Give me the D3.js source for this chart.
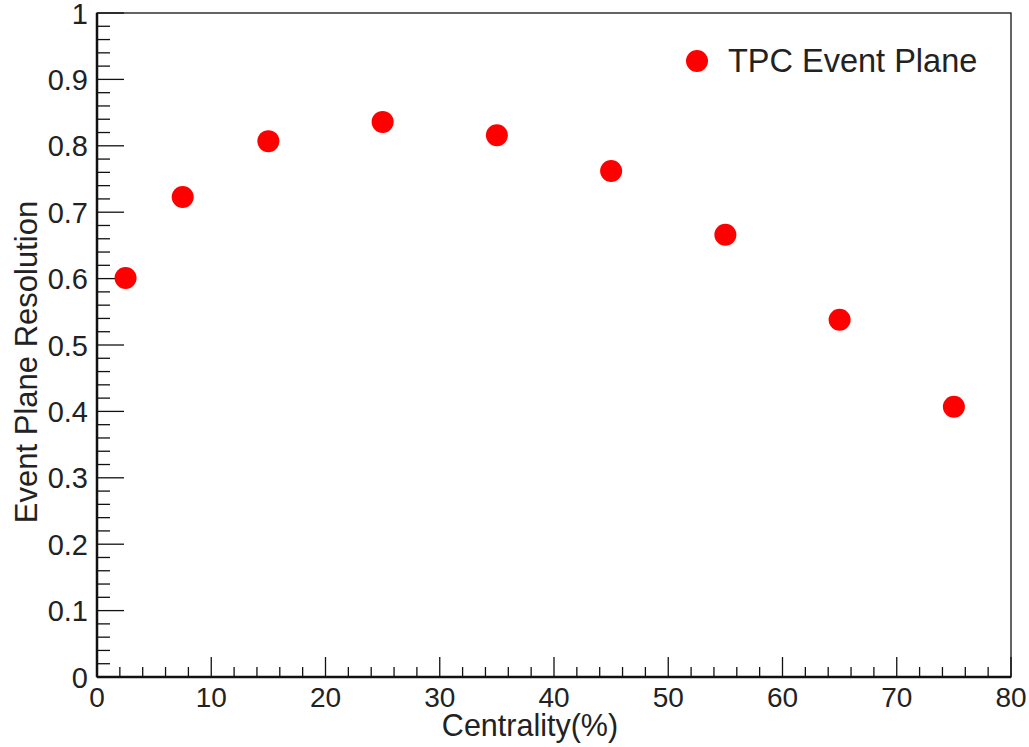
<!DOCTYPE html>
<html><head><meta charset="utf-8">
<script src="https://cdn.jsdelivr.net/npm/d3@7"></script>
<style>body{margin:0;background:#fff}svg{display:block}text{font-family:"Liberation Sans",Arial,sans-serif;fill:#222}</style>
</head><body>
<svg id="c" width="1029" height="747"></svg>
<script>
const centrality = [2.5, 7.5, 15, 25, 35, 45, 55, 65, 75];
const resolution = [0.601, 0.723, 0.807, 0.836, 0.816, 0.762, 0.666, 0.538, 0.407];
const xTicks = [0, 10, 20, 30, 40, 50, 60, 70, 80];
const yTicks = [0, 0.1, 0.2, 0.3, 0.4, 0.5, 0.6, 0.7, 0.8, 0.9, 1];
const seriesName = "TPC Event Plane";

const svg = d3.select("#c");
const L = 97, R = 1011, T = 13, B = 677;
const x = d3.scaleLinear().domain([0, 80]).range([L, R]);
const y = d3.scaleLinear().domain([0, 1]).range([B, T]);

// frame
svg.append("rect").attr("x", L).attr("y", T).attr("width", R - L).attr("height", B - T)
  .attr("fill", "none").attr("stroke", "#111").attr("stroke-width", 1.3);

// x ticks (minor every 2, major every 10)
const xMinor = d3.range(0, 80.001, 2);
svg.append("g").selectAll("line").data(xMinor).join("line")
  .attr("x1", d => x(d)).attr("x2", d => x(d))
  .attr("y1", B).attr("y2", d => B - (d % 10 === 0 ? 20 : 10))
  .attr("stroke", "#111").attr("stroke-width", 1.3);
// y ticks (minor every 0.02, major every 0.1)
const yMinor = d3.range(0, 50.001, 1).map(i => i / 50);
svg.append("g").selectAll("line").data(yMinor).join("line")
  .attr("y1", d => y(d)).attr("y2", d => y(d))
  .attr("x1", L).attr("x2", (d, i) => L + (i % 5 === 0 ? 27 : 13))
  .attr("stroke", "#111").attr("stroke-width", 1.3);
// thick axes
svg.append("line").attr("x1", L).attr("x2", L).attr("y1", T).attr("y2", B).attr("stroke", "#111").attr("stroke-width", 2.5);
svg.append("line").attr("x1", L).attr("x2", R).attr("y1", B).attr("y2", B).attr("stroke", "#111").attr("stroke-width", 2.5);

// tick labels
svg.append("g").selectAll("text").data(xTicks).join("text")
  .attr("x", d => x(d)).attr("y", 707).attr("text-anchor", "middle")
  .attr("font-size", 28).text(d => d);
svg.append("g").selectAll("text").data(yTicks).join("text")
  .attr("x", 88).attr("y", d => y(d) + 10.5).attr("text-anchor", "end")
  .attr("font-size", 29).text(d => d);

// axis titles
svg.append("text").attr("x", 530).attr("y", 736).attr("text-anchor", "middle")
  .attr("font-size", 30.5).text("Centrality(%)");
svg.append("text").attr("transform", `translate(37,362) rotate(-90)`).attr("text-anchor", "middle")
  .attr("font-size", 31).text("Event Plane Resolution");

// points
svg.append("g").selectAll("circle").data(centrality).join("circle")
  .attr("cx", d => x(d)).attr("cy", (d, i) => y(resolution[i])).attr("r", 11).attr("fill", "#ff0000");

// legend
svg.append("circle").attr("cx", 697).attr("cy", 61).attr("r", 11).attr("fill", "#ff0000");
svg.append("text").attr("x", 728).attr("y", 72).attr("font-size", 32.5).text(seriesName);
</script>
</body></html>
